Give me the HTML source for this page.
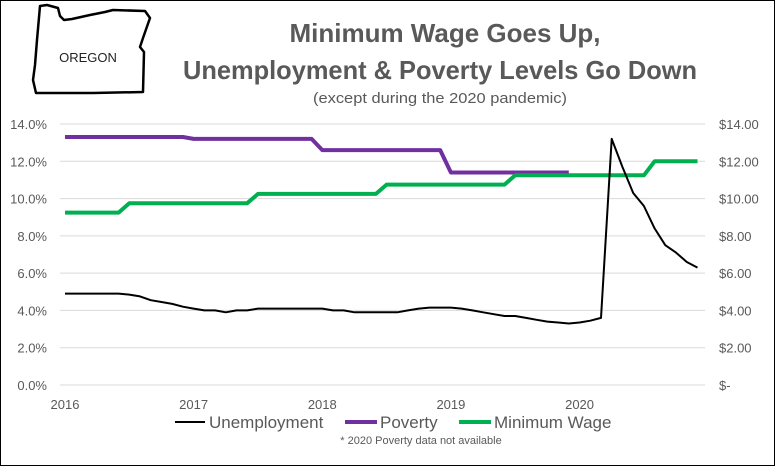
<!DOCTYPE html>
<html><head><meta charset="utf-8"><style>
body{margin:0;background:#fff;}
svg{display:block;font-family:"Liberation Sans",Arial,sans-serif;}
</style></head><body>
<svg width="775" height="466" viewBox="0 0 775 466">
<rect x="0.5" y="0.5" width="774" height="465" fill="#fff" stroke="#000" stroke-width="1"/>
<path d="M40,6 L47,5 L58,8 L60,16 L64,20 L72,19 L90,15 L105,12 L113,10 L145,11 L150,18 L143,38 L140,47 L144,52 L143,92 L93,93 L36,93 L33,80 L35,65 L37,40 Z" fill="none" stroke="#000" stroke-width="2.5" stroke-linejoin="round"/>
<text x="88" y="62" font-size="13" text-anchor="middle" fill="#222">OREGON</text>
<text x="445" y="42" font-size="26" font-weight="bold" text-anchor="middle" fill="#595959">Minimum Wage Goes Up,</text>
<text x="440" y="79" font-size="26" font-weight="bold" text-anchor="middle" fill="#595959" textLength="514" lengthAdjust="spacingAndGlyphs">Unemployment &amp; Poverty Levels Go Down</text>
<text x="440" y="103" font-size="15" text-anchor="middle" fill="#595959" textLength="254" lengthAdjust="spacingAndGlyphs">(except during the 2020 pandemic)</text>
<g id="grid"></g><g id="axes"></g><g id="series"></g>
<g>
<line x1="175" y1="422" x2="205" y2="422" stroke="#000" stroke-width="2"/>
<text x="209" y="428" font-size="17" fill="#595959">Unemployment</text>
<line x1="345" y1="422" x2="377" y2="422" stroke="#7030a0" stroke-width="4"/>
<text x="380" y="428" font-size="17" fill="#595959">Poverty</text>
<line x1="459" y1="422" x2="491" y2="422" stroke="#00b050" stroke-width="4"/>
<text x="494" y="428" font-size="17" fill="#595959">Minimum Wage</text>
</g>
<text x="421" y="444" font-size="11" text-anchor="middle" fill="#595959">* 2020 Poverty data not available</text>
</svg>
<script>
const years=["2016","2017","2018","2019","2020"];
const leftTicks=["0.0%","2.0%","4.0%","6.0%","8.0%","10.0%","12.0%","14.0%"];
const rightTicks=["$-","$2.00","$4.00","$6.00","$8.00","$10.00","$12.00","$14.00"];
const unemployment=[4.9,4.9,4.9,4.9,4.9,4.9,4.85,4.75,4.55,4.45,4.35,4.2,
4.1,4.0,4.0,3.9,4.0,4.0,4.1,4.1,4.1,4.1,4.1,4.1,
4.1,4.0,4.0,3.9,3.9,3.9,3.9,3.9,4.0,4.1,4.15,4.15,
4.15,4.1,4.0,3.9,3.8,3.7,3.7,3.6,3.5,3.4,3.35,3.3,
3.35,3.45,3.6,13.2,11.7,10.3,9.6,8.4,7.5,7.1,6.6,6.3];
const poverty=[13.3,13.3,13.3,13.3,13.3,13.3,13.3,13.3,13.3,13.3,13.3,13.3,
13.2,13.2,13.2,13.2,13.2,13.2,13.2,13.2,13.2,13.2,13.2,13.2,
12.6,12.6,12.6,12.6,12.6,12.6,12.6,12.6,12.6,12.6,12.6,12.6,
11.4,11.4,11.4,11.4,11.4,11.4,11.4,11.4,11.4,11.4,11.4,11.4];
const minWage=[9.25,9.25,9.25,9.25,9.25,9.25,9.75,9.75,9.75,9.75,9.75,9.75,
9.75,9.75,9.75,9.75,9.75,9.75,10.25,10.25,10.25,10.25,10.25,10.25,
10.25,10.25,10.25,10.25,10.25,10.25,10.75,10.75,10.75,10.75,10.75,10.75,
10.75,10.75,10.75,10.75,10.75,10.75,11.25,11.25,11.25,11.25,11.25,11.25,
11.25,11.25,11.25,11.25,11.25,11.25,11.25,12,12,12,12,12];
const NS="http://www.w3.org/2000/svg";
function x(i){return 65+i*10.72;}
function y(v){return 385-v*(261/14);}
function mk(tag,attrs,parent){const e=document.createElementNS(NS,tag);for(const k in attrs)e.setAttribute(k,attrs[k]);document.getElementById(parent).appendChild(e);return e;}
leftTicks.forEach((t,k)=>{
  const g=mk('line',{x1:60,x2:705,y1:y(k*2),y2:y(k*2),stroke:'#d9d9d9','stroke-width':1},'grid');
  
  
  const l=mk('text',{x:47,y:y(k*2)+5,'font-size':13,'text-anchor':'end',fill:'#595959'},'axes');
  l.textContent=t;
  
  
  const r=mk('text',{x:719,y:y(k*2)+5,'font-size':13,fill:'#595959'},'axes');
  r.textContent=rightTicks[k];
  
  
});
years.forEach((yr,k)=>{
  const t=mk('text',{x:x(k*12),y:409,'font-size':13,'text-anchor':'middle',fill:'#595959'},'axes');
  t.textContent=yr;
  
  
});
function line(arr,color,w,name){
  const d=arr.map((v,i)=>(i?'L':'M')+x(i).toFixed(1)+','+y(v).toFixed(1)).join(' ');
  const p=mk('path',{d:d,fill:'none',stroke:color,'stroke-width':w,'stroke-linejoin':'round'},'series');
  
  
}
line(poverty,'#7030a0',4,'poverty-line');
line(minWage,'#00b050',4,'minimum-wage-line');
line(unemployment,'#000',2,'unemployment-line');
</script>
</body></html>
